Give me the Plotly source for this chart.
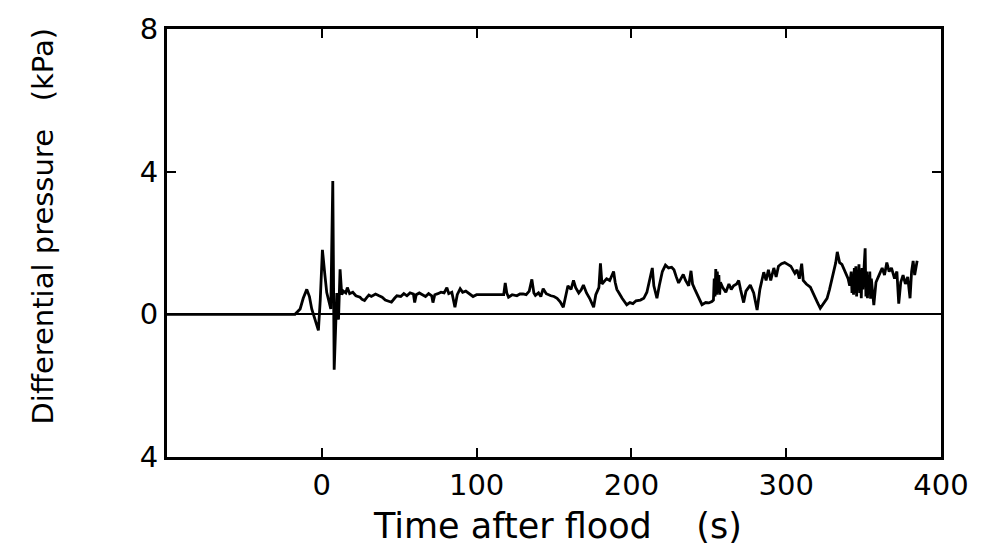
import plotly.graph_objects as go

# Time after flood (s)
time_s = [
    -100, -17.3, -14, -12, -9.7, -8, -6.5, -4, -2.2, -1, 0.4, 2, 3.2, 5.8, 7.1, 8.0,
    9.7, 10.8, 11.8, 12.9, 14, 15.5, 16.5, 18, 20, 22, 24.7, 26, 27.6, 29, 30.4, 32,
    34.7, 37, 39, 41, 43, 45, 47, 48.5, 51, 53, 55, 57, 59.2, 60, 61, 63, 65, 67, 69,
    71, 71.8, 73, 75, 77, 79, 80.8, 82, 84, 86, 87.5, 89.4, 91, 93, 94.8, 96, 97.7,
    100, 105, 110, 115, 117.5, 118.5, 119.5, 120.6, 123, 126, 128, 130, 132, 134,
    135.7, 137, 138, 140, 141.5, 143, 145, 148, 150, 152, 154, 156, 157.5, 159, 161,
    162.6, 164, 166, 167.5, 169, 171, 173, 175.6, 177, 179, 180, 181, 182, 184, 186,
    188.5, 189.5, 190.6, 192, 194, 197, 199, 201, 203, 205.8, 208, 210, 212.2, 213.5,
    214.5, 216.5, 218, 220, 222, 224, 226, 227.5, 229, 230.5, 232, 233.5, 235, 237,
    238.5, 239.5, 241, 243, 245.6, 248, 250, 252, 253, 253.5, 254, 254.5, 255, 255.5,
    256, 256.5, 257, 257.5, 259, 261, 263, 264.5, 266, 268, 269.3, 270.5, 272.5, 274,
    276.8, 279, 281.2, 283, 285.5, 287, 288.5, 290, 292, 293.5, 295, 297, 299, 301,
    303, 305.6, 307, 308.5, 310, 311, 313, 315.6, 317.5, 320, 322, 324, 326.4, 328,
    330, 332, 333, 334.5, 336, 338, 340, 341, 342, 342.5, 343, 343.5, 344, 344.5, 345,
    345.5, 346, 346.5, 347, 347.5, 348, 348.5, 349, 349.5, 350, 351, 351.5, 352,
    352.5, 353, 353.5, 354, 354.5, 355, 356.6, 358, 360, 362, 363.5, 365, 366.5, 368,
    370, 371.5, 372.7, 374, 375.5, 377, 378.5, 380, 381, 382, 383, 384.6,
]

# Differential pressure (kPa)
pressure_kpa = [
    0, 0, 0.15, 0.45, 0.70, 0.5, 0.15, -0.2, -0.45, 0.4, 1.81, 1.1, 0.61, 0.15, 3.74, -1.55,
    0.6, -0.15, 1.26, 0.55, 0.65, 0.6, 0.75, 0.58, 0.62, 0.52, 0.48, 0.42, 0.39, 0.47, 0.54, 0.5,
    0.57, 0.52, 0.48, 0.40, 0.36, 0.34, 0.45, 0.52, 0.5, 0.58, 0.52, 0.6, 0.57, 0.33, 0.55, 0.6, 0.55, 0.5, 0.58,
    0.52, 0.33, 0.55, 0.58, 0.62, 0.6, 0.75, 0.58, 0.62, 0.2, 0.55, 0.72, 0.62, 0.65, 0.6, 0.55, 0.5,
    0.55, 0.55, 0.55, 0.54, 0.55, 0.88, 0.6, 0.48, 0.55, 0.52, 0.57, 0.57, 0.55, 0.65,
    0.98, 0.6, 0.53, 0.6, 0.5, 0.72, 0.58, 0.52, 0.5, 0.45, 0.35, 0.2, 0.55, 0.8, 0.7,
    0.95, 0.75, 0.6, 0.68, 0.82, 0.6, 0.45, 0.2, 0.55, 0.75, 1.43, 0.85, 0.9, 1.0, 0.95,
    1.2, 0.9, 0.7, 0.6, 0.45, 0.27, 0.33, 0.3, 0.38, 0.4, 0.45, 0.62, 1.0, 1.3,
    0.8, 0.45, 0.8, 1.2, 1.38, 1.3, 1.32, 1.25, 1.05, 0.88, 1.0, 1.12, 0.95, 0.8,
    1.22, 0.85, 0.7, 0.5, 0.27, 0.33, 0.32, 0.36, 0.4, 1.0, 0.5, 1.27, 0.55, 1.2,
    0.6, 1.1, 0.55, 0.9, 0.75, 0.62, 0.85, 0.7, 0.8, 0.85, 0.95, 0.7, 0.33, 0.65,
    0.82, 0.6, 0.12, 0.7, 1.18, 0.95, 1.25, 0.95, 1.3, 1.05, 1.35, 1.42, 1.45, 1.40,
    1.35, 1.15, 1.25, 1.0, 1.42, 0.95, 0.85, 0.76, 0.6, 0.35, 0.17, 0.3, 0.45, 0.7,
    1.1, 1.45, 1.75, 1.45, 1.4, 1.2, 1.0, 0.8, 1.2, 0.6, 1.1, 0.55, 1.3, 0.6, 1.35,
    0.5, 1.2, 0.7, 1.4, 0.6, 1.25, 0.45, 1.3, 0.7, 1.15, 1.85, 0.5, 1.2,
    0.45, 1.1, 0.6, 1.2, 0.44, 1.0, 0.26, 0.9, 1.1, 1.3, 1.1, 1.45, 1.2, 1.3,
    1.0, 1.2, 0.3, 0.9, 1.1, 0.85, 1.05, 0.45, 1.2, 1.5, 1.1, 1.5,
]

x_tick_vals = [0, 100, 200, 300, 400]
x_tick_text = ["0", "100", "200", "300", "400"]
y_tick_vals = [-4, 0, 4, 8]
y_tick_text = ["4", "0", "4", "8"]

x_title = "Time after flood\u00a0\u00a0\u00a0\u00a0(s)"
y_title = "Differential pressure\u00a0\u00a0\u00a0(kPa)"

FONT = "DejaVu Sans, Liberation Sans, sans-serif"

fig = go.Figure()
fig.add_trace(go.Scatter(
    x=time_s, y=pressure_kpa, mode="lines",
    line=dict(color="black", width=2.8),
    showlegend=False, hoverinfo="skip",
))

axis_common = dict(
    showline=True, linecolor="black", linewidth=3, mirror="ticks",
    ticks="inside", ticklen=9, tickwidth=2, tickcolor="black",
    showgrid=False,
    tickfont=dict(family=FONT, size=29, color="black"),
)

fig.update_layout(
    width=986, height=556,
    margin=dict(l=167, r=45, t=23, b=99),
    paper_bgcolor="white", plot_bgcolor="white",
    xaxis=dict(range=[-100, 400], tickmode="array", tickvals=x_tick_vals,
               ticktext=x_tick_text, zeroline=False, **axis_common),
    yaxis=dict(range=[-4, 8], tickmode="array", tickvals=y_tick_vals,
               ticktext=y_tick_text, zeroline=True, zerolinecolor="black",
               zerolinewidth=2, **axis_common),
    annotations=[
        dict(text=x_title, xref="paper", yref="paper", x=0.505, y=-0.161,
             xanchor="center", yanchor="middle", showarrow=False,
             font=dict(family=FONT, size=35, color="black")),
        dict(text=y_title, xref="paper", yref="paper", x=-0.160, y=0.539,
             xanchor="center", yanchor="middle", textangle=-90, showarrow=False,
             font=dict(family=FONT, size=29, color="black")),
    ],
)

fig.write_html("out.html")
